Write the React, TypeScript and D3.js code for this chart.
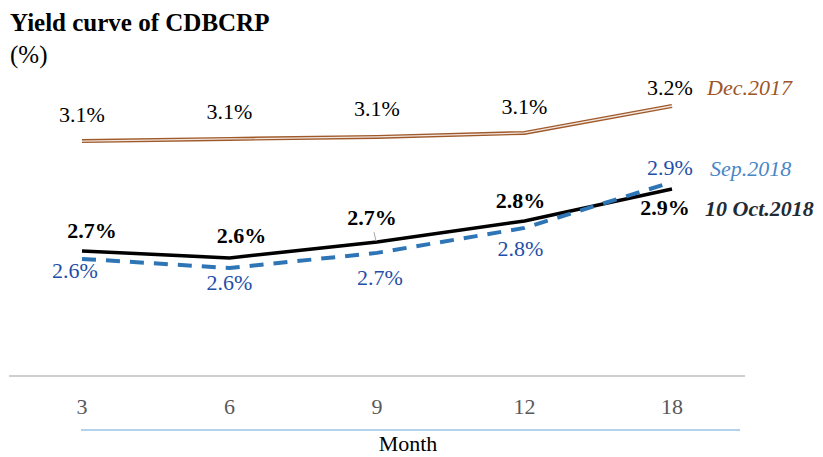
import * as d3 from "d3";

const months = ["3", "6", "9", "12", "18"];

// yields (%)
const dec2017 = [3.079, 3.088, 3.096, 3.113, 3.225];
const sep2018 = [2.588, 2.55, 2.613, 2.717, 2.908];
const oct2018 = [2.621, 2.592, 2.658, 2.746, 2.879];

const decLabels = ["3.1%", "3.1%", "3.1%", "3.1%", "3.2%"];
const sepLabels = ["2.6%", "2.6%", "2.7%", "2.8%", "2.9%"];
const octLabels = ["2.7%", "2.6%", "2.7%", "2.8%", "2.9%"];

// label nudges (px) relative to each point
const decOff: [number, number][] = [[0, -19], [0, -20], [0, -21], [0, -19], [-2, -11]];
const sepOff: [number, number][] = [[-7, 19], [0, 22], [3, 32], [-4, 28], [-2, -7]];
const octOff: [number, number][] = [[10, -13], [12, -15], [-5, -17], [-4, -13], [-7, 26]];

const W = 823;
const H = 457;
const FONT = "'Liberation Serif', 'DejaVu Serif', serif";
const FS = 22;

export default function App() {
  const x = d3.scalePoint<string>().domain(months).range([82, 672]);
  const y = d3.scaleLinear().domain([2.1, 3.3]).range([376, 88]);

  const line = d3
    .line<number>()
    .x((_, i) => x(months[i])!)
    .y((d) => y(d));

  const labels = (vals: number[], txt: string[], off: [number, number][], fill: string, bold = false) =>
    vals.map((v, i) => (
      <text
        key={i}
        x={x(months[i])! + off[i][0]}
        y={y(v) + off[i][1]}
        textAnchor="middle"
        fontSize={FS}
        fontWeight={bold ? "bold" : "normal"}
        fill={fill}
      >
        {txt[i]}
      </text>
    ));

  const x9 = x("9")!;

  return (
    <svg
      width={W}
      height={H}
      style={{ position: "absolute", left: 0, top: 0, fontFamily: FONT }}
    >
      <rect width={W} height={H} fill="#fff" />

      <text x={10} y={31} fontSize={25} fontWeight="bold" fill="#000">
        Yield curve of CDBCRP
      </text>
      <text x={10} y={63} fontSize={25} fill="#000">
        (%)
      </text>

      {/* axis */}
      <line x1={9} x2={745} y1={376} y2={376} stroke="#bfbfbf" strokeWidth={1.5} />
      {months.map((m) => (
        <text key={m} x={x(m)!} y={414} textAnchor="middle" fontSize={FS} fill="#595959">
          {m}
        </text>
      ))}
      <line x1={81} x2={740} y1={430} y2={430} stroke="#9dc3e6" strokeWidth={1.5} />
      <text x={408} y={451} textAnchor="middle" fontSize={FS} fill="#000">
        Month
      </text>

      {/* Dec.2017 double line */}
      <path d={line(dec2017)!} fill="none" stroke="#a0592a" strokeWidth={4} />
      <path d={line(dec2017)!} fill="none" stroke="#fff" strokeWidth={1.3} opacity={0.85} />

      {/* Oct line */}
      <path d={line(oct2018)!} fill="none" stroke="#000" strokeWidth={3.5} />
      {/* Sep dashed */}
      <path
        d={line(sep2018)!}
        fill="none"
        stroke="#2e75b6"
        strokeWidth={4}
        strokeDasharray="14 10"
      />

      {/* leader line for 9-month Oct label */}
      <line
        x1={x9 - 3}
        y1={y(oct2018[2]) - 10}
        x2={x9 - 1}
        y2={y(oct2018[2]) - 1}
        stroke="#a6a6a6"
        strokeWidth={1}
      />

      {labels(dec2017, decLabels, decOff, "#000")}
      {labels(sep2018, sepLabels, sepOff, "#1f4fa8")}
      {labels(oct2018, octLabels, octOff, "#000", true)}

      <text x={707} y={95} fontSize={FS} fontStyle="italic" fill="#9c5528">
        Dec.2017
      </text>
      <text x={710} y={176} fontSize={FS} fontStyle="italic" fill="#4a86c5">
        Sep.2018
      </text>
      <text x={705} y={216} fontSize={FS} fontStyle="italic" fontWeight="bold" fill="#222a35">
        10 Oct.2018
      </text>
    </svg>
  );
}
